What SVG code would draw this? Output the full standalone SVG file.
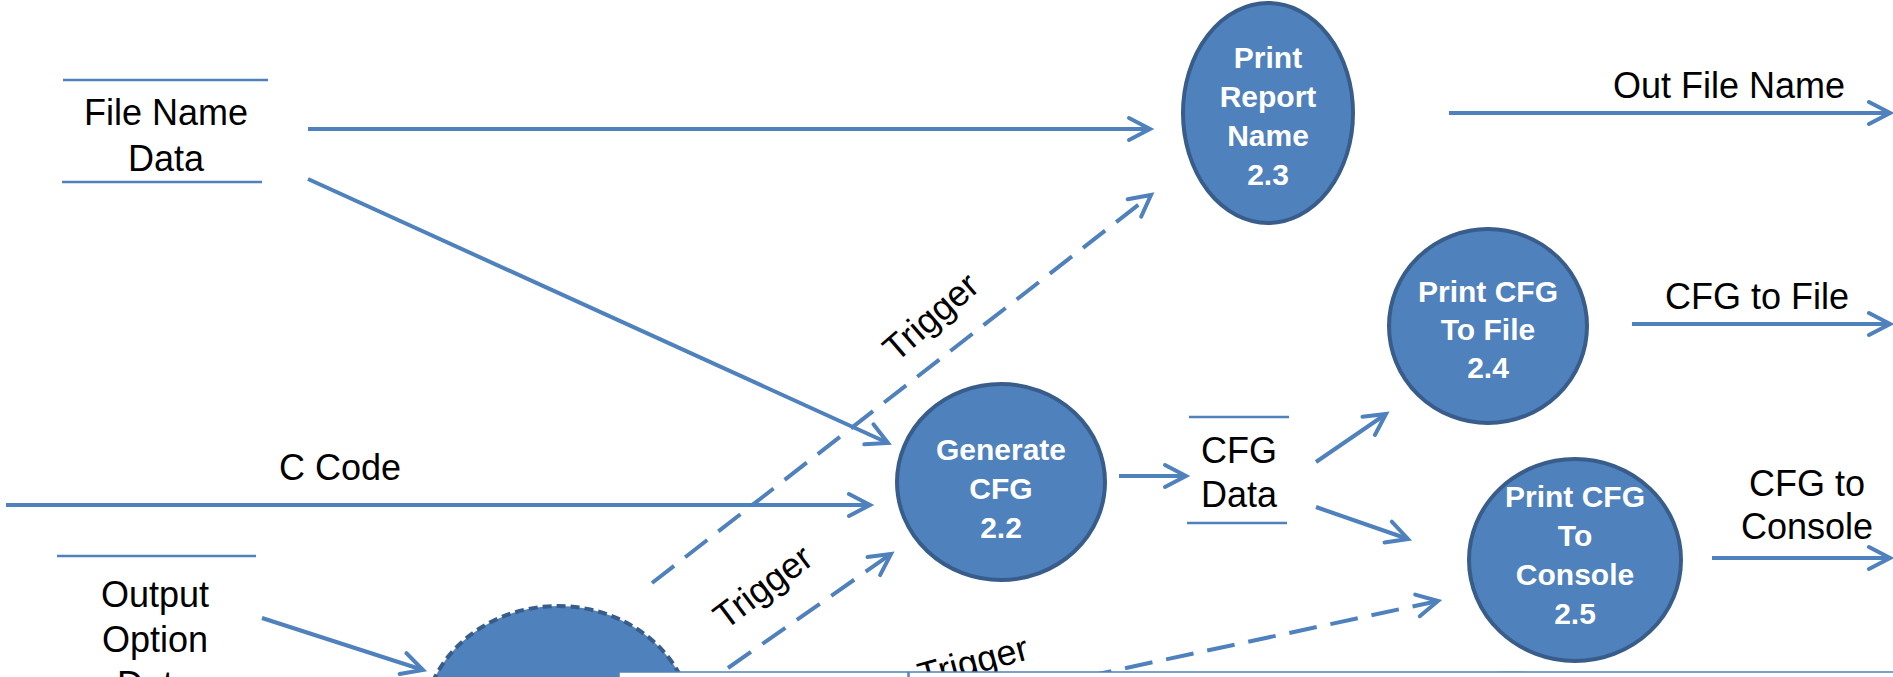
<svg xmlns="http://www.w3.org/2000/svg" width="1893" height="677" viewBox="0 0 1893 677">
<defs>
<marker id="arr" markerUnits="userSpaceOnUse" markerWidth="40" markerHeight="40" refX="22" refY="12" orient="auto" overflow="visible">
<path d="M1,1 L22,12 L1,23" fill="none" stroke="#4F81BD" stroke-width="4" stroke-linecap="round" stroke-linejoin="miter"/>
</marker>
<style>
.proc{fill:#4F81BD;stroke:#385D8A;stroke-width:4}
.ctrl{fill:#4F81BD;stroke:#385D8A;stroke-width:4;stroke-dasharray:9 5}
.pt{font-family:"Liberation Sans",Arial,sans-serif;font-weight:bold;font-size:30px;fill:#fff;text-anchor:middle}
.lb{font-family:"Liberation Sans",Arial,sans-serif;font-size:36px;fill:#000;text-anchor:middle}
.flow{stroke:#4F81BD;stroke-width:4;fill:none;marker-end:url(#arr)}
.trig{stroke:#4F81BD;stroke-width:4;fill:none;stroke-dasharray:28 14;marker-end:url(#arr)}
.store{stroke:#4F81BD;stroke-width:2.5}
</style>
</defs>
<rect width="1893" height="677" fill="#fff"/>

<g id="store-filename">
<line class="store" x1="63" y1="80" x2="268" y2="80"/>
<line class="store" x1="62" y1="182" x2="262" y2="182"/>
<text class="lb" x="166" y="125">File Name</text>
<text class="lb" x="166" y="171">Data</text>
</g>

<g id="store-output">
<line class="store" x1="57" y1="556" x2="256" y2="556"/>
<text class="lb" x="155" y="607">Output</text>
<text class="lb" x="155" y="652">Option</text>
<text class="lb" x="155" y="697">Data</text>
</g>

<g id="store-cfgdata">
<line class="store" x1="1189" y1="417" x2="1289" y2="417"/>
<line class="store" x1="1187" y1="523" x2="1287" y2="523"/>
<text class="lb" x="1239" y="463">CFG</text>
<text class="lb" x="1239" y="507">Data</text>
</g>

<g id="node-control">
<ellipse class="ctrl" cx="558" cy="727" rx="135" ry="121"/>
</g>

<g id="node-2-2">
<ellipse class="proc" cx="1001" cy="482" rx="104" ry="98"/>
<text class="pt" x="1001" y="460">Generate</text>
<text class="pt" x="1001" y="499">CFG</text>
<text class="pt" x="1001" y="538">2.2</text>
</g>

<g id="node-2-3">
<ellipse class="proc" cx="1268" cy="113" rx="85" ry="110"/>
<text class="pt" x="1268" y="68">Print</text>
<text class="pt" x="1268" y="107">Report</text>
<text class="pt" x="1268" y="146">Name</text>
<text class="pt" x="1268" y="185">2.3</text>
</g>

<g id="node-2-4">
<ellipse class="proc" cx="1488" cy="326" rx="99" ry="97"/>
<text class="pt" x="1488" y="302">Print CFG</text>
<text class="pt" x="1488" y="340">To File</text>
<text class="pt" x="1488" y="378">2.4</text>
</g>

<g id="node-2-5">
<ellipse class="proc" cx="1575" cy="560" rx="106" ry="101"/>
<text class="pt" x="1575" y="507">Print CFG</text>
<text class="pt" x="1575" y="546">To</text>
<text class="pt" x="1575" y="585">Console</text>
<text class="pt" x="1575" y="624">2.5</text>
</g>

<g id="connectors">
<line class="flow" x1="308" y1="129" x2="1150" y2="129"/>
<line class="flow" x1="308" y1="179" x2="888" y2="443"/>
<line class="flow" x1="6" y1="505" x2="870" y2="505"/>
<line class="flow" x1="262" y1="618" x2="423" y2="670"/>
<line class="flow" x1="1119" y1="476" x2="1186" y2="476"/>
<line class="flow" x1="1316" y1="462" x2="1386" y2="414"/>
<line class="flow" x1="1316" y1="507" x2="1408" y2="539"/>
<line class="flow" x1="1449" y1="113" x2="1890" y2="113"/>
<line class="flow" x1="1632" y1="324" x2="1890" y2="324"/>
<line class="flow" x1="1712" y1="558" x2="1890" y2="558"/>
<line class="trig" x1="652" y1="583" x2="1151" y2="195"/>
<line class="trig" x1="728" y1="668" x2="891" y2="554"/>
<line class="trig" x1="1084" y1="677" x2="1438" y2="601"/>
<text class="lb" x="340" y="480">C Code</text>
<text class="lb" x="1729" y="98">Out File Name</text>
<text class="lb" x="1757" y="309">CFG to File</text>
<text class="lb" x="1807" y="496">CFG to</text>
<text class="lb" x="1807" y="539">Console</text>
<text class="lb" transform="translate(931,317) rotate(-41)" y="12">Trigger</text>
<text class="lb" transform="translate(763,587) rotate(-37)" y="12">Trigger</text>
<text class="lb" transform="translate(973,662) rotate(-15)" y="12">Trigger</text>
</g>

<g id="overlay">
<ellipse cx="1512" cy="675" rx="24" ry="4" fill="#c9c9c9"/>
<rect x="619" y="672" width="289" height="20" fill="#fff" stroke="#4F81BD" stroke-width="1.5"/>
<rect x="909" y="672" width="990" height="20" fill="#fff" stroke="#4F81BD" stroke-width="1.5"/>
</g>
</svg>
